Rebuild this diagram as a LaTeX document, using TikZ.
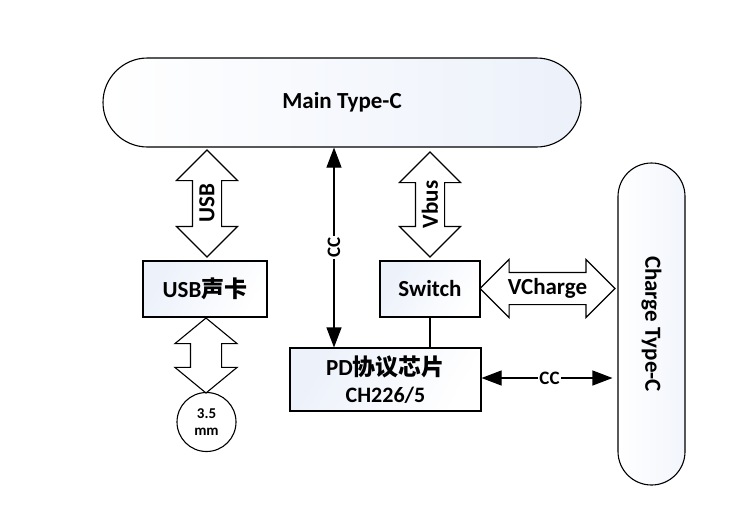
\documentclass[tikz,border=0pt]{standalone}
\usepackage{fontspec}
\setmainfont{Carlito}
\newfontfamily\cjk{Noto Sans CJK SC}
\usetikzlibrary{calc, shapes.arrows, arrows.meta}

\definecolor{boxblue}{RGB}{236,241,250}

\begin{document}
\begin{tikzpicture}[x=1pt,y=-1pt,line width=1.1pt,
  box/.style={draw,left color=boxblue,right color=white,shading angle=60,minimum height=56pt,
    font=\bfseries\fontsize{23}{26}\selectfont},
  port/.style={draw,font=\bfseries\fontsize{23}{26}\selectfont},
  dblarr/.style={double arrow,draw,fill=white,inner xsep=0pt,inner ysep=14pt,
    double arrow head extend=16pt},
  arrlbl/.style={font=\bfseries\fontsize{23}{26}\selectfont,inner sep=0pt},
  ccarr/.style={{Triangle[length=20pt,width=15pt]}-{Triangle[length=20pt,width=15pt]}},
  cclbl/.style={fill=white,inner sep=1pt,font=\bfseries\fontsize{19}{21}\selectfont}]
\useasboundingbox (0,0) rectangle (735,520);
% The two Type-C ports
\node[port,minimum width=478pt,minimum height=89pt,rounded corners=44.5pt,
  left color=white,right color=boxblue] (main) at (342,102.5) {Main Type-C};
\node[port,minimum width=67pt,minimum height=322pt,rounded corners=33.5pt,
  left color=white,right color=boxblue!70] (charge) at (651.5,324) {};
\node[arrlbl,rotate=-90] (chargelbl) at (charge) {Charge Type-C};
% Boxes
\node[box,minimum width=124pt] (card) at (205,289) {USB{\cjk 声卡}};
\node[box,minimum width=100pt] (switch) at (430,289) {Switch};
\node[box,minimum width=191pt,minimum height=63pt,align=center] (pd) at (385.5,379.5)
  {PD{\cjk 协议芯片}\\[1pt]{\fontsize{22}{24}\selectfont CH226/5}};
\node[draw,circle,fill=white,minimum size=59pt,inner sep=0pt,align=center,
  font=\bfseries\fontsize{15}{17}\selectfont] (jack) at (206.5,422) {3.5\\mm};
% Block arrows
\node[dblarr,rotate=90,minimum height=107pt] (usbarr) at (207,203.5) {};
\node[arrlbl,rotate=90] (usblbl) at (usbarr) {USB};
\node[dblarr,rotate=90,minimum height=105pt] (vbusarr) at (430,204.5) {};
\node[arrlbl,rotate=90] (vbuslbl) at (vbusarr) {Vbus};
\node[dblarr,rotate=90,minimum height=75pt,inner ysep=15pt,
  double arrow head extend=15.5pt,double arrow tip angle=101] (jackarr) at (206,355.5) {};
\node[dblarr,minimum height=135pt,inner ysep=15.5pt,double arrow head extend=13pt]
  (vchgarr) at (547.5,288.5) {};
\node[arrlbl] (vchglbl) at (vchgarr) {VCharge};
% CC lines
\coordinate (ccx) at (334,0);
\draw[ccarr] (ccx |- main.south) -- node[cclbl,rotate=90] (cc1) {CC} (ccx |- pd.north);
\draw[ccarr,shorten >=5pt] (pd.east |- 0,378) -- node[cclbl] (cc2) {CC} (charge.west |- 0,378);
% Switch to PD chip
\draw (switch.south) -- (switch.south |- pd.north);
\end{tikzpicture}
\end{document}
